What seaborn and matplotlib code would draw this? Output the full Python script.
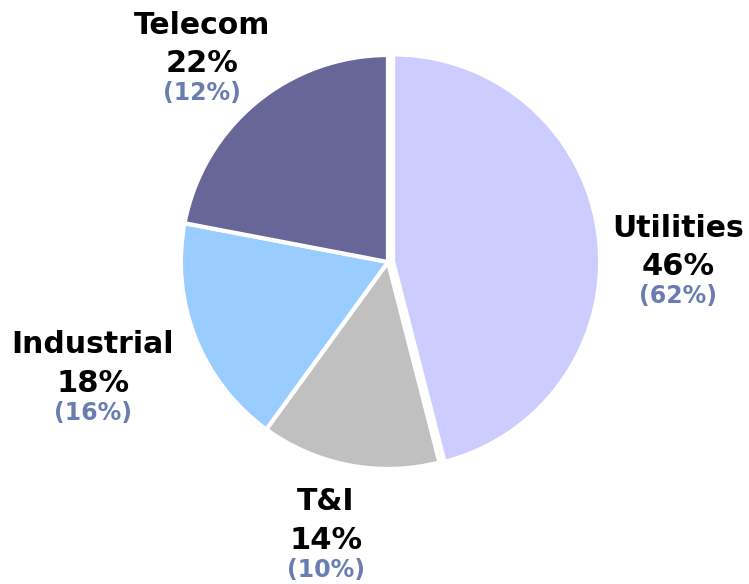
import seaborn as sns
import matplotlib.pyplot as plt

sns.set_theme(style="white")
plt.rcParams['font.family'] = ['DejaVu Sans']

# data
segments = ["Utilities", "T&I", "Industrial", "Telecom"]
shares = [46, 14, 18, 22]
prior = [62, 10, 16, 12]
colors = ["#CCCCFF", "#C0C0C0", "#99CCFF", "#666699"]
explode = [0.025, 0, 0, 0]

# label anchors (pie radius = 1)
label_x = [1.40, -0.30, -1.425, -0.90]
label_y = [0.164, -1.159, -0.401, 1.145]

fig = plt.figure(figsize=(7.49, 5.84), dpi=100)
ax = fig.add_axes([0, 0, 1, 1])
ax.pie(shares, colors=colors, startangle=90, counterclock=False,
       explode=explode, radius=1,
       wedgeprops=dict(edgecolor="white", linewidth=3))
ax.set_xlim(-1.874, 1.744)
ax.set_ylim(-1.556, 1.266)
ax.set_aspect("equal", adjustable="datalim")
ax.axis("off")

for name, s, p, x, y in zip(segments, shares, prior, label_x, label_y):
    ax.text(x, y, name, ha="center", va="center", fontsize=21.5,
            fontweight="heavy", color="black")
    ax.text(x, y - 0.185, f"{s}%", ha="center", va="center", fontsize=22,
            fontweight="heavy", color="black")
    ax.text(x, y - 0.33, f"({p}%)", ha="center", va="center", fontsize=17,
            fontweight="heavy", color="#6A7DB0")

fig.savefig("out.png", dpi=100)
